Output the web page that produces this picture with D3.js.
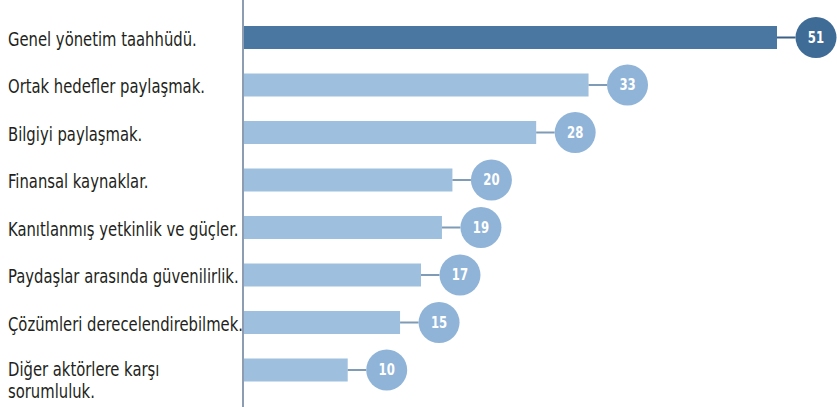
<!DOCTYPE html>
<html><head><meta charset="utf-8">
<script src="https://cdn.jsdelivr.net/npm/d3@7/dist/d3.min.js"></script>
<style>
html,body{margin:0;padding:0;background:#fff;}
svg{display:block;}
</style></head>
<body>
<svg id="chart" width="837" height="407"></svg>
<script>
const categories = [
  ["Genel yönetim taahhüdü."],
  ["Ortak hedefler paylaşmak."],
  ["Bilgiyi paylaşmak."],
  ["Finansal kaynaklar."],
  ["Kanıtlanmış yetkinlik ve güçler."],
  ["Paydaşlar arasında güvenilirlik."],
  ["Çözümleri derecelendirebilmek."],
  ["Diğer aktörlere karşı", "sorumluluk."]
];
const values = [51, 33, 28, 20, 19, 17, 15, 10];
const highlight = [true, false, false, false, false, false, false, false];

const W = 837, H = 407;
const svg = d3.select("#chart");

const x = d3.scaleLinear().domain([0, 51]).range([243, 777]);
const y = d3.scalePoint().domain(d3.range(categories.length)).range([37.5, 370]);

const barH = 23, gap = 39, r = 20.5;
const dark = "#4a77a1", light = "#9ebfdd";
const darkC = "#3f6b97", lightC = "#8fb4d8";
const FONT = "'DejaVu Sans Condensed', 'DejaVu Sans', sans-serif";
const SX = 0.866;

// axis line
svg.append("line")
  .attr("x1", x(0)).attr("x2", x(0))
  .attr("y1", 0).attr("y2", H)
  .attr("stroke", "#8d9cb0").attr("stroke-width", 2);

const rows = svg.selectAll("g.row").data(values).enter().append("g").attr("class", "row");

rows.append("rect")
  .attr("x", x(0) + 1)
  .attr("y", (d, i) => y(i) - barH / 2)
  .attr("width", d => x(d) - x(0) - 1)
  .attr("height", barH)
  .attr("fill", (d, i) => highlight[i] ? dark : light);

rows.append("line")
  .attr("x1", d => x(d))
  .attr("x2", d => x(d) + gap - r)
  .attr("y1", (d, i) => y(i))
  .attr("y2", (d, i) => y(i))
  .attr("stroke", (d, i) => highlight[i] ? "#3b5f85" : "#7f9bb6")
  .attr("stroke-width", 2);

rows.append("circle")
  .attr("cx", d => x(d) + gap)
  .attr("cy", (d, i) => y(i))
  .attr("r", r)
  .attr("fill", (d, i) => highlight[i] ? darkC : lightC);

rows.append("g")
  .attr("transform", (d, i) => `translate(${x(d) + gap},${y(i)}) scale(${SX},1)`)
  .append("text")
  .attr("dy", "0.36em")
  .attr("text-anchor", "middle")
  .attr("fill", "#fff")
  .attr("font-family", FONT)
  .attr("font-weight", "bold")
  .attr("font-size", 15)
  .text(d => d);

// category labels
const lab = svg.selectAll("g.cat").data(categories).enter().append("g")
  .attr("class", "cat")
  .attr("transform", (d, i) => `translate(8,${y(i) + (d.length > 1 ? 6 : 8)}) scale(${SX},1)`)
  .append("text")
  .attr("fill", "#231f20")
  .attr("font-family", FONT)
  .attr("font-size", 19);
lab.selectAll("tspan").data(d => d).enter().append("tspan")
  .attr("x", 0)
  .attr("dy", (d, j) => j === 0 ? 0 : 22)
  .text(d => d);
</script>
</body></html>
